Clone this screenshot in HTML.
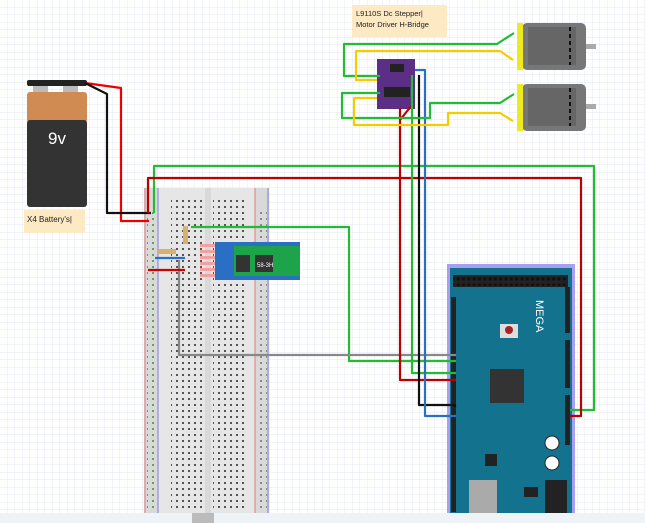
<!DOCTYPE html>
<html><head><style>
html,body{margin:0;padding:0;background:#fff}
svg{display:block}
text{font-family:"Liberation Sans",sans-serif}
</style></head><body>
<svg width="645" height="523" viewBox="0 0 645 523" xmlns="http://www.w3.org/2000/svg">
<defs>
<pattern id="grid" width="7.5" height="7.5" patternUnits="userSpaceOnUse">
<path d="M7.5 0V7.5M0 7.5H7.5" stroke="#d8e2ee" stroke-width="0.7" fill="none"/>
</pattern>
<pattern id="holes" width="6" height="6" patternUnits="userSpaceOnUse">
<rect x="2" y="2" width="2" height="2" fill="#555"/>
</pattern>
<pattern id="rail" width="6" height="6" patternUnits="userSpaceOnUse">
<rect x="2" y="2" width="2" height="2" fill="#3a9a3a"/>
</pattern>
<pattern id="hdr" width="5.3" height="6" patternUnits="userSpaceOnUse">
<rect x="1" y="1.5" width="3" height="3" fill="#111"/>
</pattern>
</defs>
<rect width="645" height="523" fill="#fff"/>
<rect width="645" height="523" fill="url(#grid)"/>
<rect x="0" y="513" width="645" height="10" fill="#eef3f8"/>

<!-- breadboard -->
<rect x="144" y="188" width="125" height="325" fill="#d9d9d9"/>
<rect x="158" y="188" width="47" height="325" fill="#e6e6e6"/>
<rect x="211" y="188" width="44" height="325" fill="#e6e6e6"/>
<line x1="145" y1="188" x2="145" y2="513" stroke="#e08080"/>
<line x1="158" y1="188" x2="158" y2="513" stroke="#8080e0"/>
<line x1="255" y1="188" x2="255" y2="513" stroke="#e08080"/>
<line x1="268" y1="188" x2="268" y2="513" stroke="#8080e0"/>
<rect x="171" y="196" width="32" height="314" fill="url(#holes)"/>
<rect x="213" y="196" width="32" height="314" fill="url(#holes)"/>
<rect x="147" y="208" width="10" height="300" fill="url(#rail)" opacity="0.8"/>
<rect x="257" y="208" width="10" height="300" fill="url(#holes)" opacity="0.6"/>
<rect x="192" y="513" width="22" height="10" fill="#bbb"/>

<!-- battery -->
<rect x="27" y="80" width="60" height="6" rx="2" fill="#222"/>
<rect x="33" y="86" width="15" height="6" fill="#bbb"/>
<rect x="63" y="86" width="15" height="6" fill="#bbb"/>
<rect x="27" y="92" width="60" height="31" rx="3" fill="#cf8b52"/>
<rect x="27" y="120" width="60" height="87" rx="3" fill="#333"/>
<text x="57" y="144" font-size="17" fill="#fff" text-anchor="middle">9v</text>
<rect x="24" y="210" width="61" height="23" fill="#fde9c4"/>
<text x="27" y="222" font-size="8" fill="#222">X4 Battery's|</text>

<!-- note -->
<rect x="352" y="5" width="95" height="32" fill="#fde9c4"/>
<text x="356" y="16" font-size="7.5" fill="#222">L9110S Dc Stepper|</text>
<text x="356" y="27" font-size="7.5" fill="#222">Motor Driver H-Bridge</text>

<!-- motors -->
<g>
<rect x="522" y="23" width="64" height="47" rx="5" fill="#777"/>
<rect x="528" y="27" width="48" height="38" fill="#666"/>
<line x1="570" y1="27" x2="570" y2="65" stroke="#111" stroke-dasharray="4 3" stroke-width="2"/>
<rect x="586" y="44" width="10" height="5" fill="#aaa"/>
<rect x="517" y="23" width="6" height="47" fill="#eeea22"/>
<rect x="522" y="84" width="64" height="47" rx="5" fill="#777"/>
<rect x="528" y="88" width="48" height="38" fill="#666"/>
<line x1="570" y1="88" x2="570" y2="126" stroke="#111" stroke-dasharray="4 3" stroke-width="2"/>
<rect x="586" y="104" width="10" height="5" fill="#aaa"/>
<rect x="517" y="84" width="6" height="47" fill="#eeea22"/>
</g>

<!-- driver board -->
<rect x="377" y="59" width="38" height="50" fill="#5a2f85"/>
<rect x="390" y="64" width="14" height="8" fill="#222"/>
<rect x="384" y="87" width="26" height="10" fill="#222"/>

<!-- HC-05 -->
<rect x="215" y="242" width="85" height="38" fill="#2a6fc4"/>
<rect x="234" y="246" width="66" height="30" fill="#1da34a"/>
<rect x="236" y="255" width="14" height="17" fill="#333"/>
<rect x="255" y="255" width="18" height="17" fill="#333"/>
<text x="257" y="267" font-size="6" fill="#fff">58-3H</text>
<g fill="#f4a0a0"><rect x="200" y="244" width="15" height="3"/><rect x="200" y="250" width="15" height="3"/><rect x="200" y="256" width="15" height="3"/><rect x="200" y="262" width="15" height="3"/><rect x="200" y="268" width="15" height="3"/><rect x="200" y="274" width="15" height="3"/></g>
<rect x="183" y="226" width="5" height="18" fill="#d8b070"/>
<rect x="158" y="249" width="18" height="5" fill="#d8b070"/>

<!-- Arduino Mega -->
<rect x="447" y="264" width="128" height="249" fill="#a89ff0"/>
<rect x="450" y="268" width="122" height="245" fill="#13728e"/>
<rect x="453" y="275" width="115" height="12" fill="#222"/>
<rect x="453" y="276" width="115" height="10" fill="url(#hdr)"/>
<rect x="451" y="297" width="5" height="68" fill="#222"/>
<rect x="451" y="352" width="5" height="160" fill="#222"/>
<rect x="565" y="287" width="5" height="46" fill="#222"/>
<rect x="565" y="340" width="5" height="48" fill="#222"/>
<rect x="565" y="395" width="5" height="50" fill="#222"/>
<rect x="490" y="369" width="34" height="34" fill="#333"/>
<rect x="500" y="324" width="18" height="14" fill="#ddd"/>
<circle cx="509" cy="330" r="4" fill="#a22"/>
<rect x="469" y="480" width="28" height="33" fill="#aaa"/>
<rect x="545" y="480" width="22" height="33" fill="#222"/>
<circle cx="552" cy="443" r="7" fill="#fff" stroke="#222"/>
<circle cx="552" cy="463" r="7" fill="#fff" stroke="#222"/>
<rect x="485" y="454" width="12" height="12" fill="#222"/>
<rect x="524" y="487" width="14" height="10" fill="#222"/>
<text x="0" y="0" font-size="11" fill="#fff" transform="translate(536,300) rotate(90)">MEGA</text>

<!-- wires -->
<g fill="none" stroke-width="2.2" stroke-linejoin="round">
<path d="M85 83 L121 88 V221 H149" stroke="#e00"/>
<path d="M85 83 L107 94 V213 H151" stroke="#111"/>
<path d="M154 213 V166 H594 V410 H570" stroke="#22bb33"/>
<path d="M148 213 V178 H581 V416 H570" stroke="#b00"/>
<path d="M191 227 H349 V361 H456" stroke="#22bb33"/>
<path d="M179 260 V355 H456" stroke="#888"/>
<path d="M155 258 H185" stroke="#2a6fc4"/>
<path d="M148 270 H185" stroke="#c00"/>
<path d="M400 120 L412 105 M400 108 V380 H456" stroke="#b00"/>
<path d="M412 75 V373 H456" stroke="#22bb33"/>
<path d="M419 75 V405 H455 V407" stroke="#111"/>
<path d="M415 70 H425 V416 H456" stroke="#2a6fc4"/>
<path d="M380 76 H344 V44 H497 L514 33" stroke="#22bb33"/>
<path d="M377 80 H356 V51 H500 L513 60" stroke="#f4cc00"/>
<path d="M380 93 H342 V118 H430 V103 H500 L514 94" stroke="#22bb33"/>
<path d="M377 98 H354 V125 H448 V113 H500 L513 121" stroke="#f4cc00"/>
</g>
</svg>
</body></html>
